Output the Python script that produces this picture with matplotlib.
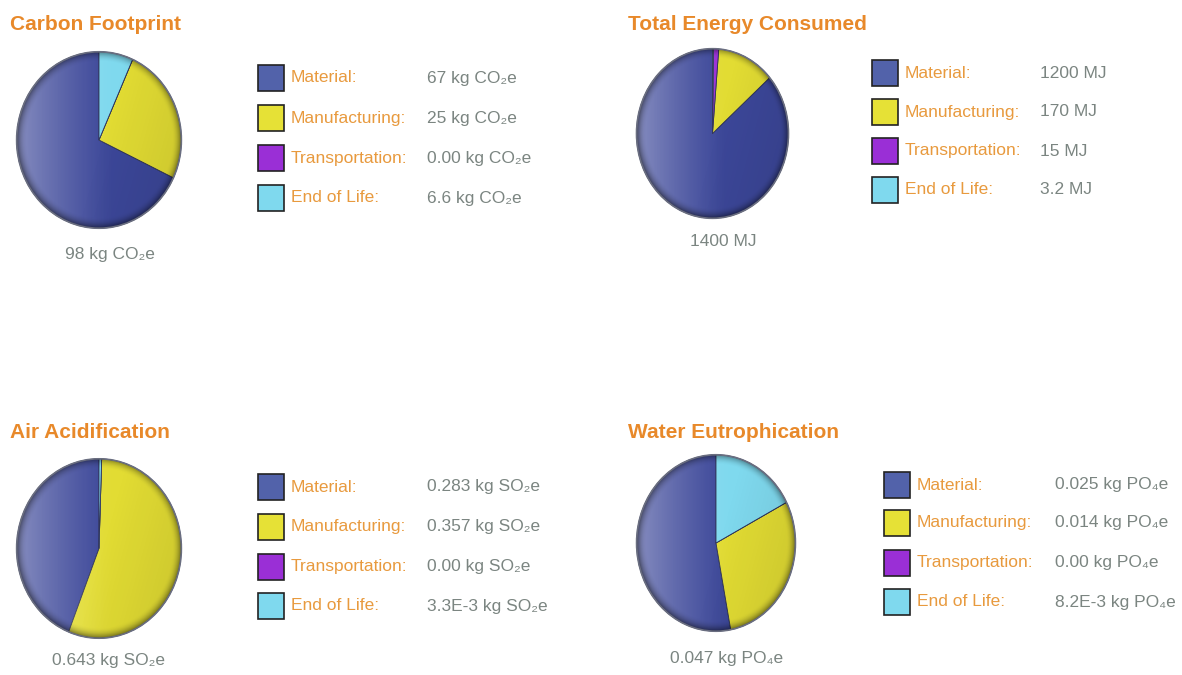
import numpy as np
import matplotlib.pyplot as plt
from matplotlib.patches import Rectangle, Circle
from matplotlib import font_manager

W, H = 1182, 675

# data
categories = ["Material:", "Manufacturing:", "Transportation:", "End of Life:"]
colors = ["#3c4799", "#e2dc33", "#9a2fd6", "#7fd9ee"]
square_colors = ["#5262aa", "#e6e136", "#9a2fd6", "#7fd9ee"]

titles = ["Carbon Footprint", "Total Energy Consumed", "Air Acidification", "Water Eutrophication"]

carbon_values = [67, 25, 0.0, 6.6]
carbon_labels = ["67 kg CO₂e", "25 kg CO₂e", "0.00 kg CO₂e", "6.6 kg CO₂e"]
carbon_total = "98 kg CO₂e"

energy_values = [1200, 170, 15, 3.2]
energy_labels = ["1200 MJ", "170 MJ", "15 MJ", "3.2 MJ"]
energy_total = "1400 MJ"

air_values = [0.283, 0.357, 0.0, 0.0033]
air_labels = ["0.283 kg SO₂e", "0.357 kg SO₂e", "0.00 kg SO₂e", "3.3E-3 kg SO₂e"]
air_total = "0.643 kg SO₂e"

water_values = [0.025, 0.014, 0.0, 0.0082]
water_labels = ["0.025 kg PO₄e", "0.014 kg PO₄e", "0.00 kg PO₄e", "8.2E-3 kg PO₄e"]
water_total = "0.047 kg PO₄e"

# layout in pixels
panels = [
    dict(vals=carbon_values, labs=carbon_labels, total=carbon_total,
         title_xy=(10, 25), pie=(15, 50, 183, 230), sq_x=258, lab_x=291, val_x=427,
         rows=[78, 118, 158, 198], total_xy=(110, 254)),
    dict(vals=energy_values, labs=energy_labels, total=energy_total,
         title_xy=(628, 24), pie=(635, 47, 790, 220), sq_x=872, lab_x=905, val_x=1040,
         rows=[73, 112, 151, 190], total_xy=(723, 241)),
    dict(vals=air_values, labs=air_labels, total=air_total,
         title_xy=(10, 433), pie=(15, 457, 183, 640), sq_x=258, lab_x=291, val_x=427,
         rows=[487, 527, 567, 606], total_xy=(108, 660)),
    dict(vals=water_values, labs=water_labels, total=water_total,
         title_xy=(628, 432), pie=(635, 453, 797, 633), sq_x=884, lab_x=917, val_x=1055,
         rows=[485, 523, 563, 602], total_xy=(727, 659)),
]

names = {f.name for f in font_manager.fontManager.ttflist}
if "Liberation Sans Narrow" in names:
    fam = ["Liberation Sans Narrow", "DejaVu Sans"]
    fs_lab, fs_title = 15, 15.5
else:
    fam = ["Liberation Sans", "DejaVu Sans"]
    fs_lab, fs_title = 12.5, 15

orange = "#e8892a"
orange_lab = "#e89a3e"
gray = "#7b8581"

fig = plt.figure(figsize=(W / 100, H / 100), dpi=100)
fig.patch.set_facecolor("white")

# overlay axes in pixel coords for the text and legend squares
ov = fig.add_axes([0, 0, 1, 1])
ov.set_xlim(0, W)
ov.set_ylim(H, 0)
ov.axis("off")

# gloss overlay grid
n = 300
gx, gy = np.meshgrid(np.linspace(-1, 1, n), np.linspace(1, -1, n))
r = np.sqrt(gx ** 2 + gy ** 2)
gloss = np.zeros((n, n, 4))
light = np.clip((0.2 - gx) / 1.2, 0, 1) ** 1.3 * 0.38
rim = np.clip((r - 0.88) / 0.12, 0, 1) ** 2 * 0.45
gloss[..., :3] = 1.0
gloss[..., 3] = light
shade = np.zeros((n, n, 4))
shade[..., 3] = rim + np.clip((gx + gy * -0.3) / 1.5, 0, 1) * 0.12

for i, p in enumerate(panels):
    x0, y0, x1, y1 = p["pie"]
    ax = fig.add_axes([x0 / W, 1 - y1 / H, (x1 - x0) / W, (y1 - y0) / H])
    ax.pie(p["vals"], colors=colors, startangle=90, counterclock=True,
           radius=1, wedgeprops=dict(edgecolor="#2a2f55", linewidth=0.6))
    for img in (gloss, shade):
        im = ax.imshow(img, extent=[-1, 1, -1, 1], zorder=3, interpolation="bilinear")
        im.set_clip_path(Circle((0, 0), 1, transform=ax.transData))
    ax.add_patch(Circle((0, 0), 1, fill=False, edgecolor="#6a6e80", linewidth=1.2, zorder=4))
    ax.set_aspect("auto")
    ax.set_xlim(-1.02, 1.02)
    ax.set_ylim(-1.02, 1.02)
    ax.axis("off")

    tx, ty = p["title_xy"]
    ov.text(tx, ty, titles[i], color=orange, fontsize=fs_title, fontweight="bold",
            family=fam, ha="left", va="center")

    for k, y in enumerate(p["rows"]):
        ov.add_patch(Rectangle((p["sq_x"], y - 13), 26, 26, facecolor=square_colors[k],
                               edgecolor="#222222", linewidth=1.2))
        ov.text(p["lab_x"], y, categories[k], color=orange_lab, fontsize=fs_lab,
                family=fam, ha="left", va="center")
        ov.text(p["val_x"], y, p["labs"][k], color=gray, fontsize=fs_lab,
                family=fam, ha="left", va="center")

    cx, cy = p["total_xy"]
    ov.text(cx, cy, p["total"], color=gray, fontsize=fs_lab, family=fam,
            ha="center", va="center")

fig.savefig("out.png", dpi=100, facecolor="white")
